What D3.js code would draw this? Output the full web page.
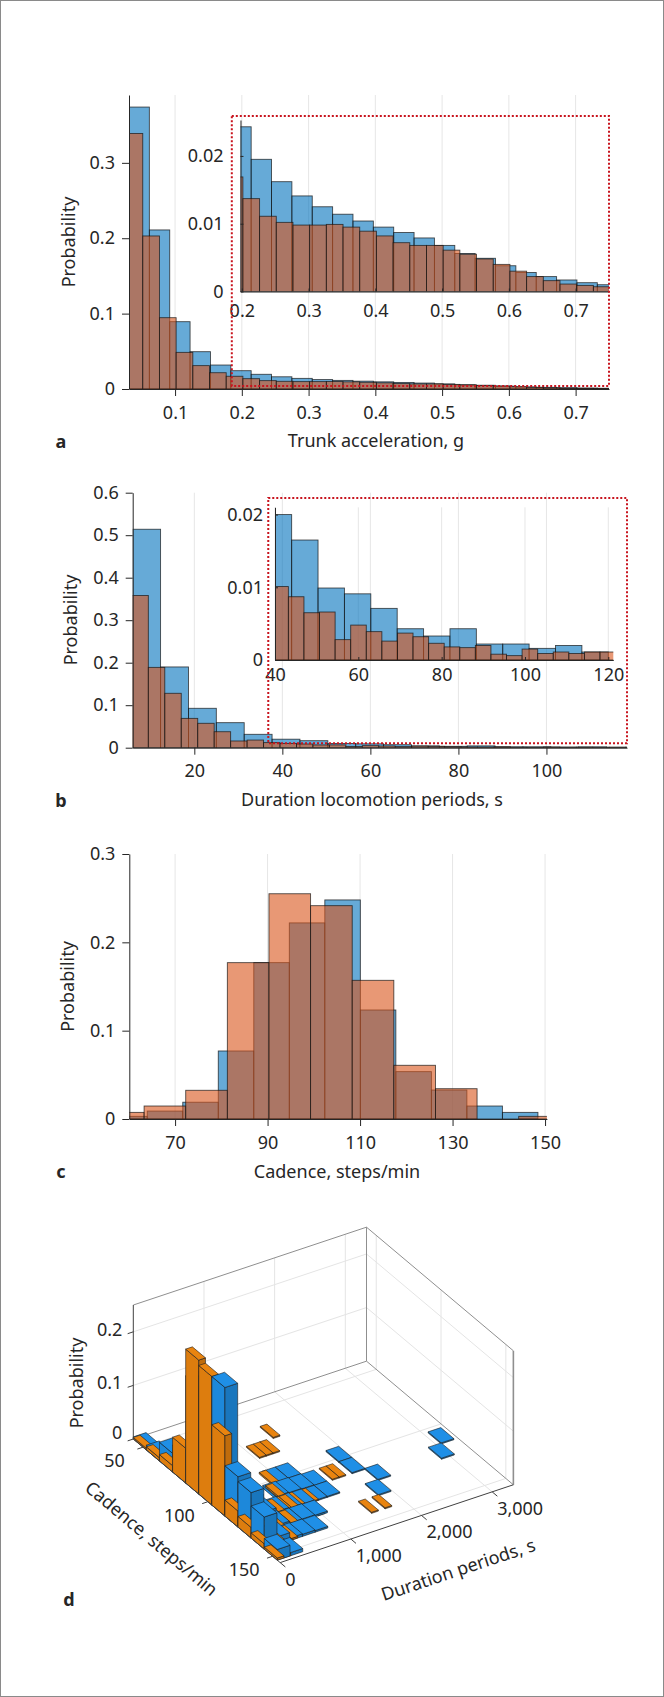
<!DOCTYPE html>
<html>
<head>
<meta charset="utf-8">
<script src="https://cdnjs.cloudflare.com/ajax/libs/d3/7.8.5/d3.min.js"></script>
<style>
body{margin:0;background:#fff}
text{font-family:"Noto Sans",sans-serif;fill:#262626}
</style>
</head>
<body>
<script>
// ---- panel a : trunk acceleration ----
var aBlueStart = 0.031, aBlueWidth = 0.0305;
var aBlueProb = [0.374, 0.211, 0.0893, 0.0495, 0.0318, 0.0243, 0.0195, 0.0162, 0.0141, 0.0125,
                 0.0114, 0.0104, 0.0095, 0.0087, 0.0079, 0.0068, 0.0056, 0.0049, 0.0038, 0.0028,
                 0.0022, 0.0017, 0.0013, 0.0010];
var aOrangeStart = 0.0266, aOrangeWidth = 0.025;
var aOrangeProb = [0.339, 0.203, 0.0946, 0.0486, 0.031, 0.0216, 0.0169, 0.0137, 0.0111, 0.0102,
                   0.0098, 0.0098, 0.0099, 0.0095, 0.0089, 0.0082, 0.0072, 0.0068, 0.0068, 0.0061,
                   0.0055, 0.0048, 0.0040, 0.0030, 0.0022, 0.0016, 0.0011, 0.0009, 0.0007];
var aXTicks = [0.1, 0.2, 0.3, 0.4, 0.5, 0.6, 0.7];
var aYTicks = [0, 0.1, 0.2, 0.3];
var aInsetXTicks = [0.2, 0.3, 0.4, 0.5, 0.6, 0.7];
var aInsetYTicks = [0, 0.01, 0.02];

// ---- panel b : duration locomotion periods ----
var bBlueStart = 6.0, bBlueWidth = 6.333;
var bBlueProb = [0.514, 0.19, 0.0927, 0.0589, 0.0315, 0.020, 0.0165, 0.0099, 0.0091, 0.0071,
                 0.0043, 0.0033, 0.0043, 0.0022, 0.0022, 0.0016, 0.0020, 0.0011];
var bOrangeStart = 5.81, bOrangeWidth = 3.74;
var bOrangeProb = [0.358, 0.189, 0.128, 0.069, 0.0574, 0.0376, 0.0158, 0.018, 0.012, 0.0101,
                   0.0087, 0.0065, 0.0066, 0.0028, 0.0048, 0.0039, 0.0026, 0.0037, 0.0032, 0.0023,
                   0.0018, 0.0017, 0.0020, 0.0008, 0.0006, 0.0015, 0.0009, 0.0011, 0.0009, 0.0011, 0.0011];
var bXTicks = [20, 40, 60, 80, 100];
var bYTicks = [0, 0.1, 0.2, 0.3, 0.4, 0.5, 0.6];
var bInsetXTicks = [40, 60, 80, 100, 120];
var bInsetYTicks = [0, 0.01, 0.02];

// ---- panel c : cadence ----
var cBlueStart = 56.3, cBlueWidth = 7.68;
var cBlueProb = [0.003, 0.009, 0.019, 0.077, 0.177, 0.222, 0.248, 0.1234, 0.0536, 0.0328, 0.0147, 0.0075];
var cOrangeStart = 54.3, cOrangeWidth = 9.0;
var cOrangeProb = [0.0075, 0.0147, 0.0325, 0.177, 0.255, 0.2415, 0.157, 0.0608, 0.0343, 0, 0.003];
var cXTicks = [70, 90, 110, 130, 150];
var cYTicks = [0, 0.1, 0.2, 0.3];

// ---- panel d : 3-D histogram cadence x duration ----
var dCadWidth = 10.1, dBlueDurWidth = 180, dOrangeDurWidth = 95;
var dBlueCad = [42.5, 52.6, 62.7, 72.8, 82.9, 93.0, 103.1, 113.2, 123.3, 133.4, 143.5,
                52.6, 82.9, 93.0, 103.1, 113.2, 123.3, 133.4, 143.5,
                93.0, 103.1, 113.2, 123.3, 133.4,
                113.2, 123.3, 133.4,
                103.1, 113.2, 123.3, 133.4,
                93.0, 103.1, 113.2, 123.3,
                93.0, 103.1, 113.2,
                103.1, 113.2,
                93.0, 103.1, 113.2, 123.3, 113.2, 103.1];
var dBlueDur = [0, 0, 0, 0, 0, 0, 0, 0, 0, 0, 0,
                180, 180, 180, 180, 180, 180, 180, 180,
                360, 360, 360, 360, 360,
                540, 540, 540,
                720, 720, 720, 720,
                900, 900, 900, 900,
                1080, 1080, 1080,
                1260, 1260,
                1800, 1800, 1980, 1800, 2880, 3060];
var dBlueProb = [0.004, 0.009, 0.035, 0.05, 0.2, 0.22, 0.24, 0.094, 0.085, 0.06, 0.02,
                 0.003, 0.02, 0.035, 0.05, 0.045, 0.03, 0.015, 0.006,
                 0.008, 0.015, 0.012, 0.008, 0.005,
                 0.005, 0.004, 0.004,
                 0.005, 0.004, 0.004, 0.003,
                 0.003, 0.004, 0.003, 0.003,
                 0.003, 0.003, 0.002,
                 0.002, 0.002,
                 0.002, 0.002, 0.002, 0.002, 0.002, 0.002];
var dOrangeCad = [42.5, 52.6, 62.7, 72.8, 82.9, 93.0, 103.1, 113.2, 123.3, 133.4, 143.5,
                  72.8, 82.9, 93.0, 103.1, 113.2, 123.3, 133.4, 143.5,
                  93.0, 103.1, 113.2, 123.3, 133.4,
                  103.1, 113.2, 123.3, 133.4,
                  103.1, 123.3, 133.4,
                  113.2, 123.3, 113.2, 123.3, 113.2, 103.1, 113.2, 93.0, 113.2, 123.3, 113.2,
                  72.8, 72.8, 72.8, 62.7, 103.1, 133.4, 103.1, 133.4];
var dOrangeDur = [0, 0, 0, 0, 0, 0, 0, 0, 0, 0, 0,
                  95, 95, 95, 95, 95, 95, 95, 95,
                  190, 190, 190, 190, 190,
                  285, 285, 285, 285,
                  380, 380, 380,
                  475, 475, 570, 570, 665, 760, 760, 855, 855, 950, 1045,
                  1045, 1140, 1235, 1425, 1520, 1520, 1615, 1710];
var dOrangeProb = [0.003, 0.006, 0.012, 0.065, 0.25, 0.24, 0.15, 0.03, 0.02, 0.01, 0.004,
                   0.01, 0.03, 0.04, 0.04, 0.025, 0.015, 0.008, 0.005,
                   0.015, 0.025, 0.02, 0.01, 0.006,
                   0.01, 0.01, 0.006, 0.004,
                   0.006, 0.004, 0.003,
                   0.004, 0.003, 0.003, 0.003, 0.003, 0.003, 0.003, 0.003, 0.003, 0.002, 0.002,
                   0.002, 0.002, 0.002, 0.002, 0.002, 0.002, 0.002, 0.002];
var dCadTicks = [50, 100, 150];
var dDurTicks = [0, 1000, 2000, 3000];
var dProbTicks = [0, 0.1, 0.2];

var BLUE = "rgb(0,114,189)", ORANGE = "rgb(217,83,25)";
var FS = 18;

var svg = d3.select("body").append("svg")
	.attr("width", 664)
	.attr("height", 1697);

svg.append("rect")
	.attr("x", 0.5).attr("y", 0.5)
	.attr("width", 663).attr("height", 1696)
	.attr("fill", "#fff").attr("stroke", "#8a8a8a");

var clipCount = 0;
function fmt(d){ return d === 0 ? "0" : String(d); }

// draws one histogram axes (main or inset), returns its scales
function drawHist(o){
	var g = svg.append("g");
	var x = d3.scaleLinear().domain(o.xDomain).range(o.xRange);
	var y = d3.scaleLinear().domain(o.yDomain).range(o.yRange);
	var id = "clip" + (clipCount++);
	g.append("clipPath").attr("id", id).append("rect")
		.attr("x", o.xRange[0]).attr("y", o.yRange[1])
		.attr("width", o.xRange[1] - o.xRange[0])
		.attr("height", o.yRange[0] - o.yRange[1]);

	if (o.grid){
		g.selectAll(".grid").data(o.xTicks).enter().append("line")
			.attr("x1", x).attr("x2", x)
			.attr("y1", o.yRange[0]).attr("y2", o.yRange[1])
			.attr("stroke", "#e6e6e6").attr("stroke-width", 1);
	}

	o.series.forEach(function(s){
		var bins = s.values.map(function(v, i){
			return {x0: s.start + i * s.width, x1: s.start + (i + 1) * s.width, v: v};
		});
		g.append("g").attr("clip-path", "url(#" + id + ")")
			.selectAll("rect").data(bins).enter().append("rect")
			.attr("x", function(d){ return x(d.x0); })
			.attr("width", function(d){ return x(d.x1) - x(d.x0); })
			.attr("y", function(d){ return y(d.v); })
			.attr("height", function(d){ return y(0) - y(d.v); })
			.attr("fill", s.color).attr("fill-opacity", 0.6)
			.attr("stroke", "#141414").attr("stroke-opacity", 0.75)
			.attr("stroke-width", 0.9);
	});

	var xa = g.append("g")
		.attr("transform", "translate(0," + o.yRange[0] + ")")
		.call(d3.axisBottom(x).tickValues(o.xTicks).tickFormat(fmt)
			.tickSize(o.tick).tickSizeOuter(0).tickPadding(o.xPad));
	var ya = g.append("g")
		.attr("transform", "translate(" + o.xRange[0] + ",0)")
		.call(d3.axisLeft(y).tickValues(o.yTicks).tickFormat(fmt)
			.tickSize(o.tick).tickSizeOuter(0).tickPadding(o.yPad));
	[xa, ya].forEach(function(a){
		a.select(".domain").attr("stroke", "#262626").attr("stroke-width", 1);
		a.selectAll(".tick line").attr("stroke", "#262626");
		a.selectAll("text").attr("font-size", FS).attr("font-family", "Noto Sans").attr("fill", "#262626");
	});
	return {x: x, y: y};
}

function title(t, x, y, rot, bold){
	svg.append("text")
		.attr("transform", "translate(" + x + "," + y + ")" + (rot ? " rotate(" + rot + ")" : ""))
		.attr("text-anchor", "middle")
		.attr("dominant-baseline", "central")
		.attr("font-size", FS)
		.attr("font-weight", bold ? "bold" : "normal")
		.text(t);
}

function zoomBox(x0, x1, y0, y1){
	svg.append("rect")
		.attr("x", x0).attr("y", y1)
		.attr("width", x1 - x0).attr("height", y0 - y1)
		.attr("fill", "none").attr("stroke", "#c8141e")
		.attr("stroke-width", 2).attr("stroke-dasharray", "2,2");
}

// ---------------- panel a ----------------
var aMain = drawHist({
	xDomain: [0.031, 0.75], xRange: [129, 609],
	yDomain: [0, 0.39], yRange: [389, 95],
	xTicks: aXTicks, yTicks: aYTicks, tick: 7, xPad: 10, yPad: 7, grid: true,
	series: [{start: aBlueStart, width: aBlueWidth, values: aBlueProb, color: BLUE},
	         {start: aOrangeStart, width: aOrangeWidth, values: aOrangeProb, color: ORANGE}]
});
drawHist({
	xDomain: [0.198, 0.75], xRange: [aMain.x(0.198), 609],
	yDomain: [0, 0.0253], yRange: [291.5, 120],
	xTicks: aInsetXTicks, yTicks: aInsetYTicks, tick: -3, xPad: 13, yPad: 17, grid: false,
	series: [{start: aBlueStart, width: aBlueWidth, values: aBlueProb, color: BLUE},
	         {start: aOrangeStart, width: aOrangeWidth, values: aOrangeProb, color: ORANGE}]
});
zoomBox(aMain.x(0.185), aMain.x(0.75), aMain.y(0.004), 116);
title("Probability", 68, 242, -90);
title("Trunk acceleration, g", 376, 440);
title("a", 61, 441, 0, true);

// ---------------- panel b ----------------
var bMain = drawHist({
	xDomain: [6, 118.3], xRange: [132.7, 627],
	yDomain: [0, 0.6], yRange: [747.7, 492.7],
	xTicks: bXTicks, yTicks: bYTicks, tick: 7, xPad: 10, yPad: 7, grid: true,
	series: [{start: bBlueStart, width: bBlueWidth, values: bBlueProb, color: BLUE},
	         {start: bOrangeStart, width: bOrangeWidth, values: bOrangeProb, color: ORANGE}]
});
drawHist({
	xDomain: [40, 121.2], xRange: [275, 613.3],
	yDomain: [0, 0.021], yRange: [660, 507.3],
	xTicks: bInsetXTicks, yTicks: bInsetYTicks, tick: -3, xPad: 8, yPad: 12, grid: true,
	series: [{start: bBlueStart, width: bBlueWidth, values: bBlueProb, color: BLUE},
	         {start: bOrangeStart, width: bOrangeWidth, values: bOrangeProb, color: ORANGE}]
});
zoomBox(bMain.x(36.8), bMain.x(118.3), bMain.y(0.0104), 498);
title("Probability", 70, 620, -90);
title("Duration locomotion periods, s", 372, 799);
title("b", 61, 800, 0, true);

// ---------------- panel c ----------------
drawHist({
	xDomain: [60.1, 150.4], xRange: [129.3, 546.9],
	yDomain: [0, 0.3], yRange: [1119, 854],
	xTicks: cXTicks, yTicks: cYTicks, tick: 7, xPad: 10, yPad: 7, grid: true,
	series: [{start: cBlueStart, width: cBlueWidth, values: cBlueProb, color: BLUE},
	         {start: cOrangeStart, width: cOrangeWidth, values: cOrangeProb, color: ORANGE}]
});
title("Probability", 67, 986.5, -90);
title("Cadence, steps/min", 337, 1171);
title("c", 61, 1171, 0, true);

// ---------------- panel d (3-D bars, orthographic view) ----------------
var th = 57.8 * Math.PI / 180, ph = Math.asin(0.53);
var L = 275.6, Lz = 158, ox = 133.3, oy = 1439;
var cadMin = 42.5, cadMax = 155.8, durMax = 3300, prbMax = 0.25;
var cadS = d3.scaleLinear().domain([cadMin, cadMax]).range([0, L]);
var durS = d3.scaleLinear().domain([0, durMax]).range([0, L]);
var prbS = d3.scaleLinear().domain([0, prbMax]).range([0, Lz]);
function P(c, t, p){
	var X = cadS(c), Y = durS(t), Z = prbS(p);
	return [ox + X * Math.cos(th) + Y * Math.sin(th),
	        oy + X * Math.sin(th) * Math.sin(ph) - Y * Math.cos(th) * Math.sin(ph) - Z * Math.cos(ph)];
}
var gd = svg.append("g");
function seg(a, b, col, w){
	gd.append("line").attr("x1", a[0]).attr("y1", a[1]).attr("x2", b[0]).attr("y2", b[1])
		.attr("stroke", col).attr("stroke-width", w);
}
var GRID = "#e4e4e4", BOX = "#8f8f8f", AX = "#404040";
// grid on floor and back walls
dCadTicks.forEach(function(c){
	seg(P(c, 0, 0), P(c, durMax, 0), GRID, 1);
	seg(P(c, durMax, 0), P(c, durMax, prbMax), GRID, 1);
});
dDurTicks.slice(1).forEach(function(t){
	seg(P(cadMin, t, 0), P(cadMax, t, 0), GRID, 1);
	seg(P(cadMin, t, 0), P(cadMin, t, prbMax), GRID, 1);
});
dProbTicks.slice(1).forEach(function(p){
	seg(P(cadMin, 0, p), P(cadMin, durMax, p), GRID, 1);
	seg(P(cadMin, durMax, p), P(cadMax, durMax, p), GRID, 1);
});
// back box edges
seg(P(cadMin, 0, prbMax), P(cadMin, durMax, prbMax), BOX, 1);
seg(P(cadMin, durMax, prbMax), P(cadMax, durMax, prbMax), BOX, 1);
seg(P(cadMin, durMax, 0), P(cadMin, durMax, prbMax), BOX, 1);
seg(P(cadMax, durMax, 0), P(cadMax, durMax, prbMax), BOX, 1.6);
seg(P(cadMin, 0, 0), P(cadMin, durMax, 0), BOX, 1);
seg(P(cadMin, durMax, 0), P(cadMax, durMax, 0), BOX, 1);

// bars
var bars = [];
dBlueCad.forEach(function(c, i){
	bars.push({c0: c, c1: c + dCadWidth, t0: dBlueDur[i], t1: dBlueDur[i] + dBlueDurWidth, p: dBlueProb[i], col: "#1f8fe6", k: 0});
});
dOrangeCad.forEach(function(c, i){
	bars.push({c0: c, c1: c + dCadWidth, t0: dOrangeDur[i], t1: dOrangeDur[i] + dOrangeDurWidth, p: dOrangeProb[i], col: "#e9840f", k: 1});
});
bars.forEach(function(b){
	var X = cadS((b.c0 + b.c1) / 2), Y = durS((b.t0 + b.t1) / 2);
	b.near = X * Math.sin(th) - Y * Math.cos(th);
});
bars.sort(function(a, b){ return (a.near - b.near) || (a.k - b.k); });
function poly(pts, fill){
	gd.append("path")
		.attr("d", "M" + pts.map(function(q){ return q[0].toFixed(2) + "," + q[1].toFixed(2); }).join("L") + "Z")
		.attr("fill", fill).attr("stroke", "#1c1c1c").attr("stroke-width", 0.6)
		.attr("stroke-linejoin", "round");
}
bars.forEach(function(b){
	var base = d3.color(b.col);
	poly([P(b.c0, b.t0, 0), P(b.c1, b.t0, 0), P(b.c1, b.t0, b.p), P(b.c0, b.t0, b.p)], base.darker(0.15));
	poly([P(b.c1, b.t0, 0), P(b.c1, b.t1, 0), P(b.c1, b.t1, b.p), P(b.c1, b.t0, b.p)], base.darker(0.55));
	poly([P(b.c0, b.t0, b.p), P(b.c1, b.t0, b.p), P(b.c1, b.t1, b.p), P(b.c0, b.t1, b.p)], base);
});

// axes lines, ticks, labels
seg(P(cadMin, 0, 0), P(cadMin, 0, prbMax), AX, 1);
seg(P(cadMin, 0, 0), P(cadMax, 0, 0), AX, 1);
seg(P(cadMax, 0, 0), P(cadMax, durMax, 0), AX, 1);
dProbTicks.forEach(function(p){
	var a = P(cadMin, 0, p);
	seg(a, P(cadMin, -80, p), AX, 1);
	svg.append("text").attr("x", a[0] - 11).attr("y", a[1] - (p === 0 ? 7 : 3))
		.attr("text-anchor", "end").attr("dominant-baseline", "central")
		.attr("font-size", FS).text(fmt(p));
});
dCadTicks.forEach(function(c){
	var a = P(c, 0, 0);
	seg(a, P(c, -80, 0), AX, 1);
	svg.append("text").attr("x", a[0] - 28.5).attr("y", a[1] + 13)
		.attr("text-anchor", "middle").attr("dominant-baseline", "central")
		.attr("font-size", FS).text(c);
});
dDurTicks.forEach(function(t){
	var a = P(cadMax, t, 0);
	seg(a, P(cadMax + 4, t, 0), AX, 1);
	svg.append("text").attr("x", a[0] + 5).attr("y", a[1] + 16)
		.attr("text-anchor", "start").attr("dominant-baseline", "central")
		.attr("font-size", FS).text(d3.format(",")(t));
});
title("Probability", 76, 1383, -90);
title("Cadence, steps/min", 152, 1538, 40.1);
title("Duration periods, s", 458, 1569, -18.4);
title("d", 69, 1599, 0, true);
</script>
</body>
</html>
